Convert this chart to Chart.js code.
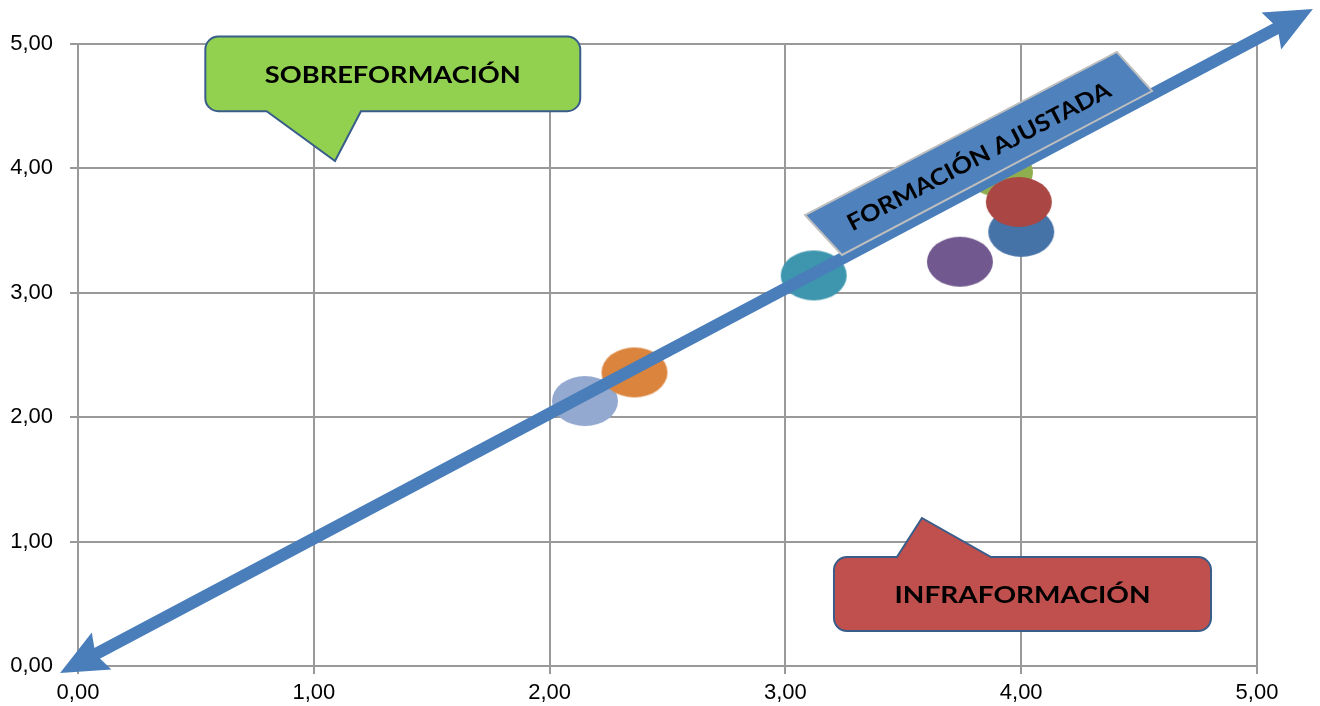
<!DOCTYPE html>
<html>
<head>
<meta charset="utf-8">
<script src="https://cdn.jsdelivr.net/npm/chart.js@4.4.1/dist/chart.umd.min.js"></script>
<style>
  html, body { margin: 0; background: #fff; }
</style>
</head>
<body>
<canvas id="chart" width="1320" height="706"></canvas>
<script>
// one ellipse per group; first one is drawn on top
const groups = ['Grupo 1', 'Grupo 2', 'Grupo 3', 'Grupo 4', 'Grupo 5', 'Grupo 6', 'Grupo 7'];
const xValues = [3.99, 2.36, 4.00, 3.91, 3.12, 3.74, 2.15];
const yValues = [3.73, 2.36, 3.49, 3.97, 3.14, 3.25, 2.13];
const groupColors = ['#AA4643', '#DB843D', '#4572A7', '#8FAE4F', '#3D96AE', '#71588F', '#93A9CF'];
const tickLabels = ['0,00', '1,00', '2,00', '3,00', '4,00', '5,00'];

// annotation shapes, in axis units
const arrowFrom = [-0.076, -0.056];
const arrowTo = [5.237, 5.281];
const fitBand = [[3.083, 3.625], [4.406, 4.936], [4.555, 4.622], [3.240, 3.304]];
const fitLabel = { text: 'FORMACIÓN AJUSTADA', at: [3.82, 4.10], width: 294 };
const overCallout = { text: 'SOBREFORMACIÓN', x: [0.54, 2.13], y: [5.06, 4.46], base: [0.80, 1.20], tip: [1.09, 4.06], side: 'bottom', fill: '#92D050' };
const underCallout = { text: 'INFRAFORMACIÓN', x: [3.206, 4.805], y: [0.876, 0.281], base: [3.473, 3.872], tip: [3.579, 1.19], side: 'top', fill: '#C0504D' };

function ellipseImage(color) {
  const c = document.createElement('canvas');
  c.width = 68; c.height = 52;
  const g = c.getContext('2d');
  g.fillStyle = color;
  g.beginPath();
  g.ellipse(34, 26, 33, 25, 0, 0, Math.PI * 2);
  g.fill();
  return c;
}

function fittedText(ctx, text, x, y, width, size, angle) {
  ctx.save();
  ctx.font = 'bold ' + size + 'px Lato';
  const w = ctx.measureText(text).width;
  ctx.translate(x, y);
  ctx.rotate(angle);
  ctx.scale(width / w, 1);
  ctx.fillStyle = '#000';
  ctx.textAlign = 'center';
  ctx.textBaseline = 'alphabetic';
  ctx.fillText(text, 0, size * 0.36);
  ctx.restore();
}

function calloutPath(ctx, x0, y0, x1, y1, r, b0, b1, tip, side) {
  ctx.beginPath();
  ctx.moveTo(x0 + r, y0);
  if (side === 'top') { ctx.lineTo(b0, y0); ctx.lineTo(tip[0], tip[1]); ctx.lineTo(b1, y0); }
  ctx.arcTo(x1, y0, x1, y1, r);
  ctx.arcTo(x1, y1, x0, y1, r);
  if (side === 'bottom') { ctx.lineTo(b1, y1); ctx.lineTo(tip[0], tip[1]); ctx.lineTo(b0, y1); }
  ctx.arcTo(x0, y1, x0, y0, r);
  ctx.arcTo(x0, y0, x1, y0, r);
  ctx.closePath();
}

const shapesPlugin = {
  id: 'shapes',
  afterDatasetsDraw(chart) {
    const ctx = chart.ctx;
    const xs = chart.scales.x, ys = chart.scales.y;
    const P = v => [xs.getPixelForValue(v[0]), ys.getPixelForValue(v[1])];

    // double arrow
    const a = P(arrowFrom), b = P(arrowTo);
    const len = Math.hypot(b[0] - a[0], b[1] - a[1]);
    const u = [(b[0] - a[0]) / len, (b[1] - a[1]) / len];
    const n = [-u[1], u[0]];
    const headL = 47, headW = 21, notch = 7;
    ctx.save();
    ctx.strokeStyle = '#4A7EBB';
    ctx.fillStyle = '#4A7EBB';
    ctx.lineWidth = 12;
    ctx.beginPath();
    ctx.moveTo(a[0] + u[0] * (headL - 10), a[1] + u[1] * (headL - 10));
    ctx.lineTo(b[0] - u[0] * (headL - 10), b[1] - u[1] * (headL - 10));
    ctx.stroke();
    [[b, u], [a, [-u[0], -u[1]]]].forEach(([t, d]) => {
      ctx.beginPath();
      ctx.moveTo(t[0], t[1]);
      ctx.lineTo(t[0] - d[0] * headL + n[0] * headW, t[1] - d[1] * headL + n[1] * headW);
      ctx.lineTo(t[0] - d[0] * (headL - notch), t[1] - d[1] * (headL - notch));
      ctx.lineTo(t[0] - d[0] * headL - n[0] * headW, t[1] - d[1] * headL - n[1] * headW);
      ctx.closePath();
      ctx.fill();
    });

    // band along the arrow
    const pts = fitBand.map(P);
    ctx.beginPath();
    pts.forEach((p, i) => i ? ctx.lineTo(p[0], p[1]) : ctx.moveTo(p[0], p[1]));
    ctx.closePath();
    ctx.fillStyle = '#4F81BD';
    ctx.fill();
    ctx.strokeStyle = '#BEBEBE';
    ctx.lineWidth = 2;
    ctx.stroke();
    const ang = Math.atan2(pts[1][1] - pts[0][1], pts[1][0] - pts[0][0]);
    const c = P(fitLabel.at);
    fittedText(ctx, fitLabel.text, c[0], c[1], fitLabel.width, 23, ang);

    // callouts
    [overCallout, underCallout].forEach(k => {
      const x0 = xs.getPixelForValue(k.x[0]), x1 = xs.getPixelForValue(k.x[1]);
      const y0 = ys.getPixelForValue(k.y[0]), y1 = ys.getPixelForValue(k.y[1]);
      calloutPath(ctx, x0, y0, x1, y1, 13,
        xs.getPixelForValue(k.base[0]), xs.getPixelForValue(k.base[1]), P(k.tip), k.side);
      ctx.fillStyle = k.fill;
      ctx.fill();
      ctx.strokeStyle = '#385D8A';
      ctx.lineWidth = 2;
      ctx.stroke();
      fittedText(ctx, k.text, (x0 + x1) / 2, (y0 + y1) / 2 + 1, 256, 23, 0);
    });
    ctx.restore();
  }
};

const gridColor = '#999999';
const tickFont = { family: 'Liberation Sans, Arial', size: 22 };

new Chart(document.getElementById('chart'), {
  type: 'scatter',
  data: {
    datasets: groups.map((g, i) => ({
      label: g,
      data: [{ x: xValues[i], y: yValues[i] }],
      pointStyle: ellipseImage(groupColors[i]),
      pointRadius: 30,
      pointHoverRadius: 30,
      backgroundColor: groupColors[i]
    }))
  },
  options: {
    responsive: false,
    animation: false,
    layout: { padding: { left: 0, top: 44, right: 63, bottom: 0 } },
    plugins: {
      legend: { display: false },
      tooltip: { enabled: false }
    },
    scales: {
      x: {
        min: 0, max: 5,
        ticks: { stepSize: 1, callback: (v, i) => tickLabels[i], color: '#000', font: tickFont, padding: 6, maxRotation: 0 },
        grid: { color: gridColor, lineWidth: 2, tickLength: 8 },
        border: { color: gridColor, width: 2 },
        afterFit: s => { s.height = 40; }
      },
      y: {
        min: 0, max: 5,
        ticks: { stepSize: 1, callback: (v, i) => tickLabels[i], color: '#000', font: tickFont, padding: 17 },
        grid: { color: gridColor, lineWidth: 2, tickLength: 8 },
        border: { color: gridColor, width: 2 },
        afterFit: s => { s.width = 78; }
      }
    }
  },
  plugins: [shapesPlugin]
});
</script>
</body>
</html>
